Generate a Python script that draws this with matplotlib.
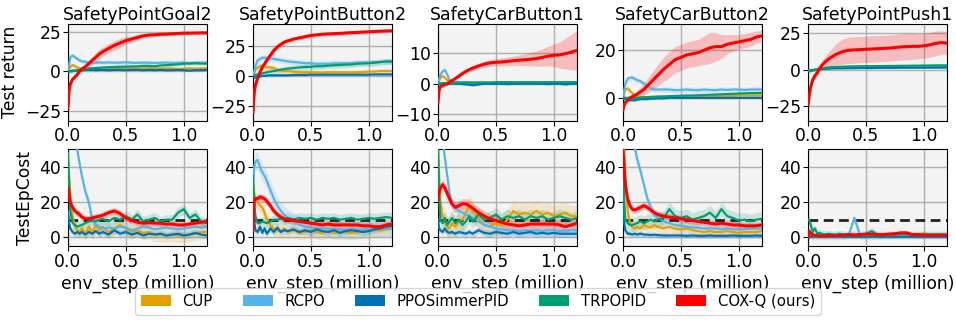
import numpy as np
import matplotlib
matplotlib.use("Agg")
import matplotlib.pyplot as plt
from matplotlib.patches import Patch

# env steps (million) at which the curves were read
X = [0, 0.01, 0.02, 0.04, 0.06, 0.08, 0.1, 0.12,
     0.15, 0.18, 0.21, 0.24, 0.27, 0.3, 0.35, 0.4,
     0.45, 0.5, 0.55, 0.6, 0.65, 0.7, 0.75, 0.8,
     0.85, 0.9, 0.95, 1.0, 1.05, 1.1, 1.15, 1.2]

methods = ["CUP", "RCPO", "PPOSimmerPID", "TRPOPID", "COX-Q (ours)"]
colors = ["#E69F00", "#56B4E9", "#0072B2", "#009E73", "#FF0000"]
envs = ["SafetyPointGoal2", "SafetyPointButton2", "SafetyCarButton1",
        "SafetyCarButton2", "SafetyPointPush1"]

# ---------------- Test return ----------------
ret_goal2_cup = [0, 1.5, 3, 4, 3.5, 2.5, 2, 1.5, 1.5, 1.8, 2, 2, 2, 2.2, 2, 2,
                 1.8, 2, 2, 1.8, 2, 2, 2, 1.8, 2, 2, 1.5, 1.8, 2, 1.8, 2, 2]
ret_goal2_rcpo = [0, 4, 9, 10, 9, 8, 7, 6.5, 6, 5.5, 5.5, 5.5, 5.8, 5.5, 5.7, 5.5,
                  5.6, 5.8, 5.5, 5.4, 5.6, 5.5, 5.3, 5.5, 5.6, 5.4, 5.5, 5.6, 5.3, 5.5, 5.6, 5.5]
ret_goal2_ppo = [0, 0, 0.3, 0.5, 0.5, 0.5, 0.8, 0.8, 1, 1, 1, 0.8, 1, 1, 0.8, 1,
                 1, 0.8, 1, 1, 0.8, 1, 0.8, 1, 0.8, 0.8, 1, 0.8, 0.5, 0.8, 0.8, 1]
ret_goal2_trpo = [0, 0, 0, 0.2, 0.5, 0.8, 1, 1.2, 1.5, 1.8, 2, 2.2, 2.3, 2.5, 2.7, 2.8,
                  3, 3, 3.2, 3.2, 3.5, 3.5, 3.3, 3.8, 4, 4.2, 4.5, 5, 5, 5.2, 5, 5]
ret_goal2_coxq = [-23, -12, -8, -5, -3.5, -2, 0, 1.5, 3, 5, 7, 9, 11, 12.5, 14.5, 16.5,
                  18, 19.5, 20.5, 21.5, 22.5, 23, 23.2, 23.5, 23.6, 23.8, 24, 24.2, 24.2, 24.3, 24.4, 24.4]
ret_goal2_coxq_std = [1, 1, 1, 1, 1, 1, 1, 1.2, 1.5, 2, 2.5, 3, 3, 3, 3, 3,
                      3, 2.5, 2, 2, 1.5, 1.5, 1.2, 1, 1, 1, 1, 1, 1, 1, 1, 1]

ret_button2_cup = [0, 2, 5, 7, 8, 8, 7.5, 7, 7, 6.5, 5, 4.5, 4, 3.8, 3.5, 3,
                   3, 3, 3, 2.8, 3, 3, 3, 3, 3, 3, 3.2, 3.5, 3.5, 4, 4, 4]
ret_button2_rcpo = [0, 3, 8, 13, 14, 15, 15, 15, 14.5, 14, 13.5, 13, 12.5, 12, 11.5, 11,
                    10.5, 10.5, 10, 10, 10, 10.5, 10.5, 10.5, 10.5, 11, 11, 11, 11, 11.5, 11.5, 11.5]
ret_button2_ppo = [0, -1, -1.5, -1, -0.5, 0, 0, 0.3, 0.5, 0.5, 0.5, 0.5, 0.5, 0.5, 0.8, 0.8,
                   0.8, 1, 1, 1, 1, 1, 1, 1, 1, 1, 1, 1, 1.2, 1.2, 1.2, 1.2]
ret_button2_trpo = [0, 0, 0.5, 1, 1.5, 2, 2.5, 3, 3.5, 4, 4.5, 5, 5.5, 6, 6.5, 7,
                    7.3, 7.5, 8, 8, 8.5, 8.8, 9, 9.3, 9.5, 10, 10.3, 10.5, 11, 11.5, 12, 12]
ret_button2_coxq = [-30, -15, -8, -2, 3, 7, 10, 13, 17, 21, 24, 26, 28, 29, 30.5, 31.5,
                    32.5, 33.5, 34, 34.5, 34.8, 35, 35.2, 35.5, 35.8, 36, 36.3, 36.5, 36.8, 37, 37.2, 37.3]
ret_button2_coxq_std = [2, 2, 2, 2, 2, 2, 2, 2, 2, 2, 2, 2, 1.5, 1.5, 1.5, 1.5,
                        1.5, 1.5, 1.5, 1.5, 1.5, 1.5, 1.5, 1.5, 1.5, 1.5, 1.5, 1.5, 1.5, 1.5, 1.5, 1.5]

ret_car1_cup = [0, 1, 2, 2.5, 2, 1.2, 0.8, 0.5, 0.4, 0.3, 0.3, 0.3, 0.3, 0.3, 0.3, 0.3,
                0.3, 0.3, 0.3, 0.3, 0.3, 0.3, 0.3, 0.3, 0.3, 0.3, 0.3, 0.3, 0.3, 0.3, 0.3, 0.3]
ret_car1_rcpo = [0, 1.5, 3, 4, 4.5, 3, 1.2, 0.8, 0.6, 0.5, 0.5, 0.5, 0.3, 0.3, 0.3, 0.3,
                 0.3, 0.3, 0.3, 0.3, 0.3, 0.3, 0.3, 0.3, 0.3, 0.3, 0.3, 0.3, 0.3, 0.3, 0.3, 0.3]
ret_car1_ppo = [0, 0, 0, 0, 0, 0, 0, 0, 0, 0, -0.1, -0.2, -0.3, -0.5, -0.2, 0,
                0, 0, 0, -0.1, 0, 0, 0, 0, 0, 0, -0.1, 0, 0, -0.2, 0, 0]
ret_car1_trpo = [0, 0, 0.1, 0.2, 0.2, 0.3, 0.3, 0.3, 0.3, 0.3, 0.3, 0.4, 0.4, 0.4, 0.4, 0.4,
                 0.4, 0.5, 0.5, 0.5, 0.5, 0.5, 0.5, 0.5, 0.5, 0.5, 0.5, 0.5, 0.5, 0.5, 0.5, 0.5]
ret_car1_coxq = [-6, -2, -1, -0.5, -0.3, 0, 0.5, 1, 1.7, 2.5, 3.3, 4, 4.6, 5.1, 5.8, 6.4,
                 6.8, 7, 7.1, 7.3, 7.5, 7.7, 7.8, 8, 8.2, 8.6, 9, 9.3, 9.4, 9.8, 10.3, 10.9]
ret_car1_coxq_std = [1, 0.5, 0.5, 0.5, 0.5, 0.5, 0.5, 0.5, 0.5, 0.5, 0.5, 0.6, 0.7, 0.8, 0.9, 1,
                     1.1, 1.2, 1.3, 1.4, 1.5, 1.7, 1.9, 2.2, 2.5, 2.8, 3.2, 3.7, 4.3, 5, 5.8, 6.5]

ret_car2_cup = [0, 2, 3.5, 4, 3, 2, 1, 0.5, 0.3, 0.3, 0.3, 0.3, 0.3, 0.5, 0.5, 0.5,
                0.5, 0.5, 0.5, 0.5, 0.5, 0.8, 0.8, 0.8, 0.8, 0.8, 0.8, 1, 1, 1, 1, 1]
ret_car2_rcpo = [0, 3, 6, 8, 8.5, 8.5, 8, 7.5, 7, 6, 5, 4, 3.5, 3.5, 3.5, 3.5,
                 3.2, 3.3, 3.5, 3.3, 3.2, 3.5, 3.3, 3.2, 3.5, 3.3, 3.5, 3.5, 3.3, 3.5, 3.5, 3.5]
ret_car2_ppo = [0, -0.5, -0.5, -0.8, -1, -1, -1, -0.8, -0.5, -0.5, -0.5, -0.3, -0.3, -0.2, -0.2, 0,
                0, 0, 0, 0, 0, 0, 0, 0, 0, 0, 0, 0, 0, 0, 0, 0]
ret_car2_trpo = [0, 0, 0, 0, 0, 0, 0, 0, 0.1, 0.2, 0.3, 0.4, 0.5, 0.5, 0.6, 0.7,
                 0.8, 0.9, 1, 1, 1.1, 1.2, 1.3, 1.4, 1.5, 1.6, 1.7, 1.8, 1.9, 2, 2, 2.1]
ret_car2_coxq = [-5, -3, -2, -1, 0, 0.5, 1, 1.5, 2.5, 3.5, 5, 6.5, 8, 9.5, 12, 14,
                 16, 17, 18, 18.5, 19, 20, 21, 21.5, 21.5, 22.5, 23, 23.5, 24, 24.5, 25.5, 26]
ret_car2_coxq_std = [1, 1, 1, 1, 1, 1, 1, 1.5, 2, 2.5, 3, 3.5, 4, 4.5, 5, 5.5,
                     5.5, 5.5, 5.5, 5.5, 5.5, 6, 6.5, 6, 5, 4, 3.5, 3, 3, 3, 2.5, 2.5]

ret_push1_cup = [-0.5, -0.5, -0.5, -0.3, 0, 0.3, 0.5, 0.8, 1, 1.2, 1.3, 1.5, 1.5, 1.6, 1.7, 1.8,
                 1.8, 1.9, 1.9, 2, 2, 2, 2, 2.1, 2.1, 2.1, 2.2, 2.2, 2.2, 2.3, 2.3, 2.3]
ret_push1_rcpo = [-0.5, -0.5, -0.5, -0.3, 0, 0.4, 0.7, 1, 1.2, 1.4, 1.5, 1.7, 1.8, 1.9, 2, 2,
                  2.1, 2.1, 2.2, 2.2, 2.3, 2.3, 2.3, 2.4, 2.4, 2.4, 2.5, 2.5, 2.5, 2.5, 2.6, 2.6]
ret_push1_ppo = [-0.5, -0.5, -0.5, -0.3, 0, 0.2, 0.4, 0.5, 0.7, 0.8, 0.9, 1, 1, 1, 1.1, 1.1,
                 1.2, 1.2, 1.2, 1.3, 1.3, 1.3, 1.3, 1.4, 1.4, 1.4, 1.4, 1.5, 1.5, 1.5, 1.5, 1.5]
ret_push1_trpo = [-1, -1, -1, -0.5, -0.3, 0, 0.5, 1, 1.3, 1.6, 1.8, 2, 2, 2.1, 2.2, 2.3,
                  2.3, 2.4, 2.4, 2.5, 2.5, 2.6, 2.6, 2.7, 2.7, 2.8, 2.8, 2.9, 2.9, 3, 3, 3]
ret_push1_coxq = [-24, -18, -13, -7, -4, -2, 1, 3, 5.5, 7.5, 9, 10.5, 11.5, 12.5, 13.3, 13.6,
                  13.8, 14, 14.2, 14.4, 14.6, 14.8, 15.2, 15.6, 15.8, 16, 16, 16.4, 17, 18, 18.6, 18.2]
ret_push1_coxq_std = [1, 1, 1, 1.5, 2, 2.5, 3, 3.5, 4, 5, 6, 7, 8, 8.5, 9, 9,
                      9, 9, 9, 9, 9, 9, 9, 9, 9, 9, 8.5, 8.5, 8.5, 8.5, 8, 8]

# std of the baselines (roughly constant per panel): CUP, RCPO, PPOSimmerPID, TRPOPID
ret_goal2_std = [1.0, 1.5, 0.5, 1.0]
ret_button2_std = [2.0, 2.5, 0.8, 2.5]
ret_car1_std = [0.4, 0.6, 0.3, 0.3]
ret_car2_std = [0.5, 1.2, 0.5, 0.5]
ret_push1_std = [0.6, 0.6, 0.5, 0.6]

ret_yticks = [[-25, 0, 25], [-25, 0, 25], [-10, 0, 10], [0, 20], [-25, 0, 25]]
ret_ylims = [(-31, 30), (-37, 43), (-12, 19.5), (-9.5, 31), (-34.7, 31.3)]

# ---------------- Test episode cost ----------------
cost_goal2_cup = [45, 35, 25, 12, 6, 4, 3, 5, 2, 6, 3, 7, 4, 6, 3, 5,
                  7, 5, 3, 4, 2.5, 3, 1.5, 1.5, 1, 1.5, 1, 1, 1.5, 2, 3, 3]
cost_goal2_rcpo = [60, 60, 60, 58, 55, 50, 42, 35, 26, 20, 10, 7, 6, 5, 5.5, 5,
                   6, 5.5, 4, 5, 6, 5.5, 4.5, 5, 5.5, 5, 4.5, 5, 5.5, 6, 5.5, 6]
cost_goal2_ppo = [15, 8, 5, 3, 2, 3, 2, 3, 1.5, 3, 2, 3.5, 2, 3, 1.5, 4,
                  2, 3, 1.5, 2.5, 1, 2, 1.5, 2, 1, 1.5, 2, 1, 1.5, 2.5, 1.5, 1]
cost_goal2_trpo = [48, 30, 15, 8, 7, 6, 6.5, 7, 8, 9, 10, 9, 10, 10.5, 9, 11,
                   10, 12, 10, 13, 9, 10, 11, 9, 10, 10, 14, 16, 11, 13, 9, 8]
cost_goal2_coxq = [28, 24, 20, 17, 15, 14, 13, 11.5, 10.5, 10.5, 11, 11.5, 12, 12.5, 14, 15,
                   13.5, 11, 9.5, 8.5, 8, 8.3, 8, 8, 7.5, 7.5, 7, 7, 7.5, 8, 8.5, 9]

cost_button2_cup = [30, 25, 22, 20, 18, 17, 14, 10, 7, 5, 4, 3, 5, 3, 4, 2.5,
                    3, 4, 3, 2.5, 3.5, 2.5, 3, 3, 2.5, 3, 3.5, 3.5, 4, 4, 4.5, 5]
cost_button2_rcpo = [30, 40, 43, 44, 40, 37, 35, 32, 27, 22, 18, 15, 13, 11, 9, 7,
                     6, 5.5, 5, 5, 5, 4.5, 4.5, 4, 4.5, 4, 4.5, 5, 5, 5.5, 5, 5]
cost_button2_ppo = [25, 10, 4, 3, 6, 2.5, 5, 2, 5, 3, 5.5, 3, 4, 3.5, 4.5, 3,
                    4, 3, 4.5, 3.5, 3, 4, 2.5, 3.5, 4, 3.5, 3, 3.5, 4.5, 5, 6, 6.5]
cost_button2_trpo = [35, 20, 12, 8, 8, 9, 8.5, 8, 9, 10, 10, 10.5, 10, 11, 10, 11,
                     10.5, 11, 10, 11, 10.5, 11, 10, 10.5, 11, 10, 10.5, 11, 10.5, 11, 11.5, 11]
cost_button2_coxq = [4, 20, 22, 22, 23, 22.5, 22, 20.5, 18, 15, 13, 11.5, 10.5, 10, 9.5, 9,
                     8.5, 8, 7.5, 7, 7.5, 7, 7, 7, 7, 7, 6.5, 6.5, 6, 6, 7, 7.5]

cost_car1_cup = [50, 35, 20, 12, 8, 6, 5, 8, 6, 9, 10, 14, 18, 15, 10, 7,
                 6, 8, 7, 10, 15, 13, 14, 13, 15, 13, 14, 12, 13, 14, 12, 12]
cost_car1_rcpo = [60, 60, 60, 55, 45, 35, 25, 20, 17, 15, 14, 13, 12, 11, 9, 7,
                  6, 5, 4.5, 4, 4, 3.5, 4, 3.5, 4, 3.5, 4, 4, 3.5, 4, 4, 4]
cost_car1_ppo = [10, 5, 4, 3, 5, 3, 2.5, 3, 2, 3, 2.5, 2, 3, 2, 4, 2.5,
                 2, 3, 2.5, 2, 3, 2, 2.5, 3, 2, 2.5, 2, 2.5, 2, 2, 2, 2]
cost_car1_trpo = [50, 25, 10, 8, 11, 7, 9, 11, 8, 10, 7, 9, 12, 9, 13, 10,
                  11, 13, 10, 12, 11, 12, 10, 12, 11, 12, 10, 11, 12, 11, 10, 11]
cost_car1_coxq = [22, 26, 28, 30, 28, 25, 22, 19, 17, 18, 19, 19, 18, 16.5, 14, 12,
                  10.5, 9.5, 8.5, 7.5, 7, 6.5, 7, 7.5, 7.5, 7.5, 7.5, 7.5, 7, 6, 7, 8]

cost_car2_cup = [60, 50, 35, 15, 8, 6, 5, 6, 5, 7, 6, 5.5, 7, 6, 5, 6,
                 5, 4.5, 5, 4, 3.5, 3, 3.5, 3, 3, 3.5, 3, 2.5, 3, 3, 3, 3.5]
cost_car2_rcpo = [60, 60, 60, 60, 60, 58, 52, 45, 38, 30, 22, 17, 13, 11, 9, 8,
                  7, 6.5, 6, 5.5, 5.5, 5, 5, 5, 4.5, 5, 4.5, 4.5, 4.5, 5, 5, 5]
cost_car2_ppo = [20, 8, 4, 2, 2, 1.5, 2, 1.5, 2, 1.5, 1.5, 1.2, 1.5, 1.2, 1, 1,
                 1, 1, 0.8, 1, 0.8, 0.8, 1, 0.8, 0.8, 0.8, 1, 0.8, 0.8, 0.8, 1, 0.8]
cost_car2_trpo = [50, 20, 10, 8, 7, 7, 7.5, 8, 9, 8, 9, 10, 9, 10, 11, 16,
                  12, 11, 12, 10, 11, 12, 14, 11, 16, 12, 11, 9.5, 10, 9, 10, 10.5]
cost_car2_coxq = [50, 40, 30, 22, 18, 16, 15.5, 16, 17, 18, 17, 15.5, 14, 13, 12, 11.5,
                  11, 10.5, 10, 9.5, 9, 8.5, 8, 7.5, 8, 7.5, 7, 7, 6.5, 6.5, 6.5, 7]

cost_push1_cup = [1, 1, 1, 0.8, 0.8, 0.5, 0.5, 0.5, 0.5, 0.5, 0.8, 0.5, 0.5, 0.5, 0.8, 0.5,
                  0.5, 0.8, 0.5, 0.5, 0.8, 0.8, 1, 1, 1, 1.2, 1.5, 2, 1.2, 1, 1, 1]
cost_push1_rcpo = [1, 1, 0.5, 0.5, 0.5, 0.5, 0.5, 0.5, 0.5, 0.5, 0.5, 0.5, 0.5, 0.5, 1, 11,
                   1, 0.8, 0.8, 1, 1, 1, 1, 1, 1, 1, 1, 1, 1, 1, 1, 1]
cost_push1_ppo = [0.5, 0.3, 0.3, 0.3, 0.3, 0.3, 0.3, 0.3, 0.3, 0.3, 0.3, 0.3, 0.3, 0.3, 0.3, 0.3,
                  0.3, 0.3, 0.3, 0.3, 0.3, 0.3, 0.3, 0.3, 0.3, 0.3, 0.3, 0.3, 0.3, 0.3, 0.3, 0.3]
cost_push1_trpo = [10, 10, 8, 3, 5, 2, 2.5, 2, 1.5, 2, 1.5, 1.5, 2, 1.5, 1.5, 1.5,
                   1.5, 1.8, 3.5, 1.5, 1.5, 1.8, 1.5, 2, 2, 1.5, 1.5, 1.5, 1.5, 1.5, 1.5, 1.5]
cost_push1_coxq = [0, 3.5, 2.5, 1.5, 1, 1, 0.8, 0.8, 1, 1, 1.2, 1, 1, 1.2, 1.5, 1.2,
                   1.5, 1.8, 1.8, 1.5, 1.5, 1.8, 2, 2.5, 2.5, 1.5, 1.5, 1.2, 1.2, 1.2, 1.3, 1.2]

# std of each method per panel: CUP, RCPO, PPOSimmerPID, TRPOPID, COX-Q
cost_goal2_std = [4, 3, 2, 3, 2]
cost_button2_std = [4, 5, 2, 3, 2]
cost_car1_std = [6, 3, 2, 4, 3]
cost_car2_std = [3, 3, 1.5, 4, 2]
cost_push1_std = [1.5, 2, 1, 2, 1]

cost_limit = 10

ret_data = [
    [ret_goal2_cup, ret_goal2_rcpo, ret_goal2_ppo, ret_goal2_trpo, ret_goal2_coxq],
    [ret_button2_cup, ret_button2_rcpo, ret_button2_ppo, ret_button2_trpo, ret_button2_coxq],
    [ret_car1_cup, ret_car1_rcpo, ret_car1_ppo, ret_car1_trpo, ret_car1_coxq],
    [ret_car2_cup, ret_car2_rcpo, ret_car2_ppo, ret_car2_trpo, ret_car2_coxq],
    [ret_push1_cup, ret_push1_rcpo, ret_push1_ppo, ret_push1_trpo, ret_push1_coxq],
]
ret_std = [
    ret_goal2_std + [ret_goal2_coxq_std],
    ret_button2_std + [ret_button2_coxq_std],
    ret_car1_std + [ret_car1_coxq_std],
    ret_car2_std + [ret_car2_coxq_std],
    ret_push1_std + [ret_push1_coxq_std],
]
cost_data = [
    [cost_goal2_cup, cost_goal2_rcpo, cost_goal2_ppo, cost_goal2_trpo, cost_goal2_coxq],
    [cost_button2_cup, cost_button2_rcpo, cost_button2_ppo, cost_button2_trpo, cost_button2_coxq],
    [cost_car1_cup, cost_car1_rcpo, cost_car1_ppo, cost_car1_trpo, cost_car1_coxq],
    [cost_car2_cup, cost_car2_rcpo, cost_car2_ppo, cost_car2_trpo, cost_car2_coxq],
    [cost_push1_cup, cost_push1_rcpo, cost_push1_ppo, cost_push1_trpo, cost_push1_coxq],
]
cost_std = [cost_goal2_std, cost_button2_std, cost_car1_std, cost_car2_std, cost_push1_std]

FS = 12.3
plt.rcParams["font.size"] = FS
x = np.array(X)

fig, axes = plt.subplots(2, 5, figsize=(9.56, 3.24), dpi=100)
fig.subplots_adjust(left=0.0711, right=0.9906, top=0.926, bottom=0.2407,
                    wspace=0.331, hspace=0.30)


def draw(ax, series, stds):
    for i, (y, s) in enumerate(zip(series, stds)):
        y = np.array(y, dtype=float)
        s = np.array(s, dtype=float)
        red = i == 4
        ax.fill_between(x, y - s, y + s, color=colors[i], alpha=0.22 if red else 0.18,
                        linewidth=0, zorder=2 + i * 0.1)
        ax.plot(x, y, color=colors[i], lw=2.2 if red else 1.6, zorder=3 + i * 0.1)


for c in range(5):
    ax = axes[0, c]
    draw(ax, ret_data[c], ret_std[c])
    ax.set_title(envs[c], fontsize=12.5, pad=3)
    ax.set_ylim(*ret_ylims[c])
    ax.set_yticks(ret_yticks[c])

    ax = axes[1, c]
    ax.axhline(cost_limit, color="#222222", lw=2, ls=(0, (3.5, 2)), zorder=2.9)
    draw(ax, cost_data[c], cost_std[c])
    ax.set_ylim(-5, 50)
    ax.set_yticks([0, 20, 40])
    ax.set_xlabel("env_step (million)", fontsize=FS, labelpad=3)

for ax in axes.flat:
    ax.set_xlim(0, 1.2)
    ax.set_xticks([0, 0.5, 1.0])
    ax.set_xticklabels(["0.0", "0.5", "1.0"])
    ax.set_facecolor("#f3f3f3")
    ax.grid(True, color="#b0b0b0", lw=1)
    ax.set_axisbelow(True)
    ax.tick_params(labelsize=FS, length=3.5, pad=1.5)

axes[0, 0].set_ylabel("Test return", fontsize=FS)
axes[1, 0].set_ylabel("TestEpCost", fontsize=FS)

handles = [Patch(facecolor=c, label=m) for m, c in zip(methods, colors)]
fig.legend(handles=handles, loc="lower center", ncol=5, fontsize=10.75,
           bbox_to_anchor=(0.5, 0.005), handlelength=2.0, columnspacing=2.0,
           handletextpad=0.8)

plt.savefig("out.png", dpi=100)
plt.close()
